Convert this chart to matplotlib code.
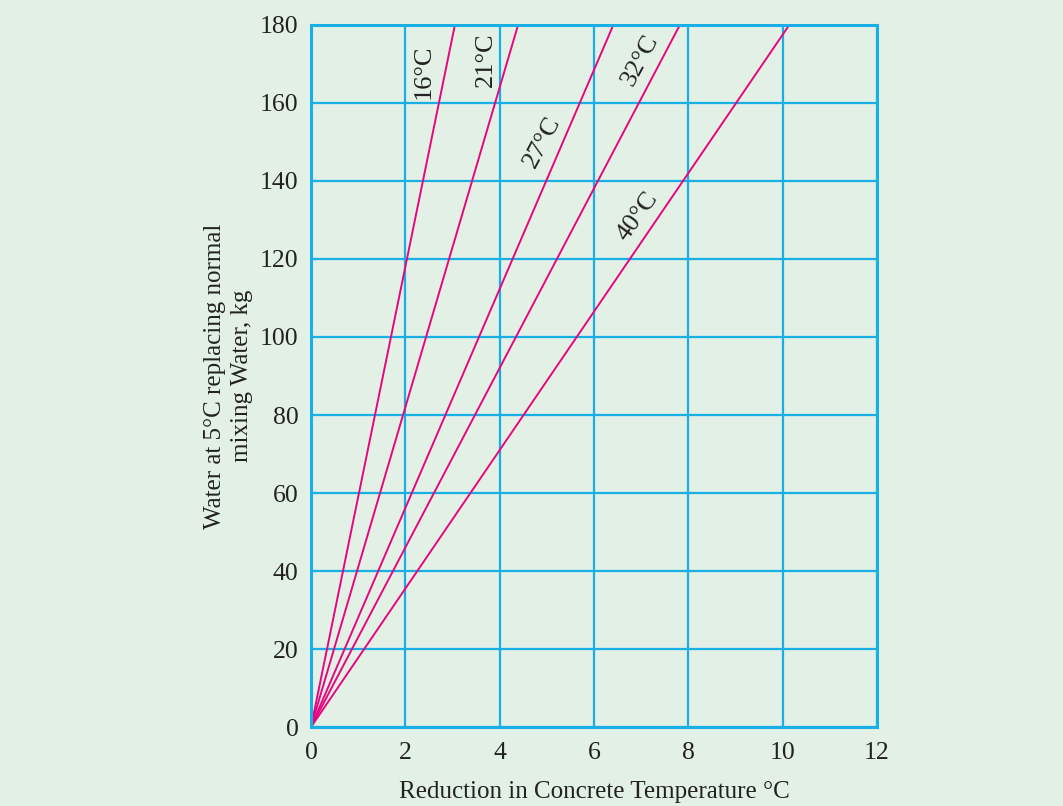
import matplotlib.pyplot as plt

plt.rcParams['font.family'] = ['Liberation Serif', 'DejaVu Serif']

# temperature of the concrete mix and x where each line reaches 180 kg
temps = ["16°C", "21°C", "27°C", "32°C", "40°C"]
x_top = [3.05, 4.39, 6.41, 7.82, 10.14]
y_top = 180

# label placement (data coords) and rotation
label_xy = [(2.38, 168), (3.71, 171), (4.90, 150), (6.97, 171), (6.93, 131)]
label_rot = [90, 90, 62, 62, 54]

bg = "#e3f0e5"
grid_c = "#18aee6"
line_c = "#e6077f"

fig = plt.figure(figsize=(10.63, 8.06), dpi=100, facecolor=bg)
ax = fig.add_axes([0.2926, 0.098, 0.8250 - 0.2926, 0.969 - 0.098])
ax.set_facecolor(bg)

for t, xt in zip(temps, x_top):
    ax.plot([0, xt], [0, y_top], color=line_c, lw=1.4, solid_capstyle="butt")

for t, (lx, ly), r in zip(temps, label_xy, label_rot):
    ax.text(lx, ly, t, rotation=r, fontsize=19, ha="center", va="center",
            color="#222222")

ax.set_xlim(0, 12)
ax.set_ylim(0, 180)
ax.set_xticks(range(0, 13, 2))
ax.set_yticks(range(0, 181, 20))
ax.grid(True, color=grid_c, lw=1.6)
ax.set_axisbelow(True)
for s in ax.spines.values():
    s.set_color(grid_c)
    s.set_linewidth(2.2)
ax.tick_params(length=0, labelsize=18.5, labelcolor="#222222", pad=9)
ax.tick_params(axis="x", pad=11)

ax.set_xlabel("Reduction in Concrete Temperature °C", fontsize=18,
              color="#222222", labelpad=12)
ax.set_ylabel("Water at 5°C replacing normal\nmixing Water, kg", fontsize=18,
              color="#222222", labelpad=5, linespacing=1.3)

fig.savefig("out.png", dpi=100, facecolor=bg)
